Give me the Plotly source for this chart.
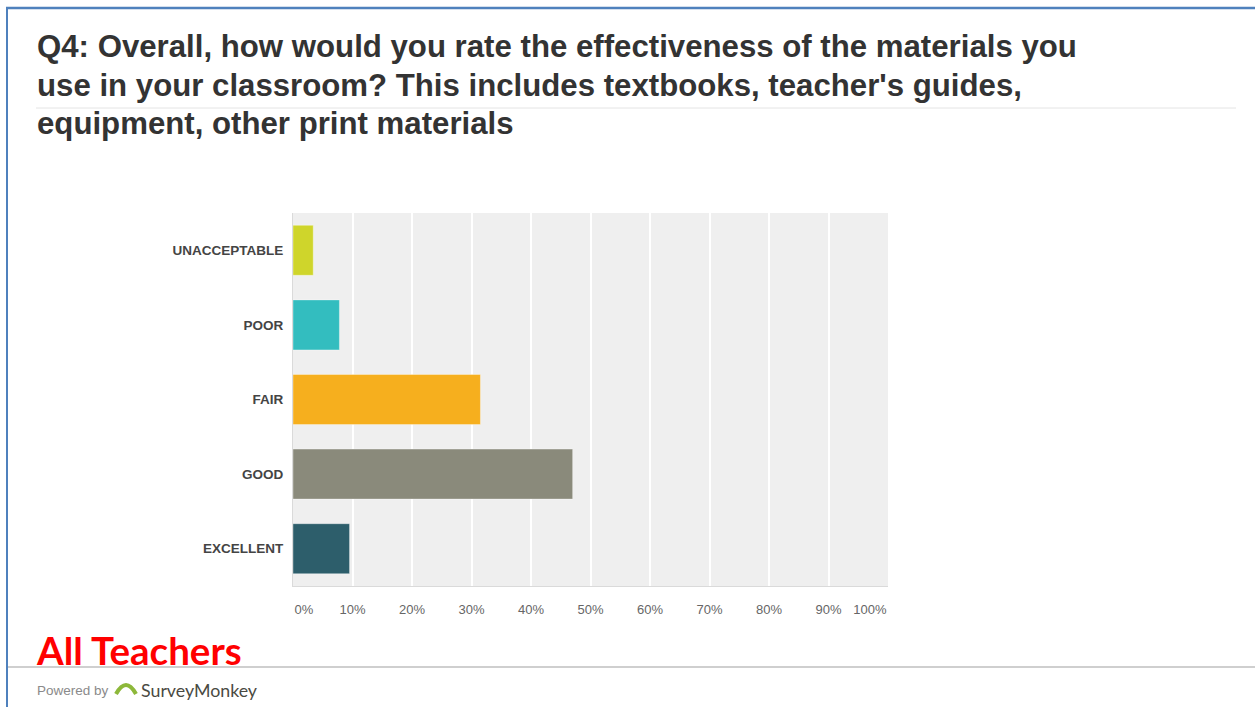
import plotly.graph_objects as go

# Survey responses (percent of respondents)
categories = ["UNACCEPTABLE", "POOR", "FAIR", "GOOD", "EXCELLENT"]
percentages = [3.4, 7.8, 31.5, 47.0, 9.5]
bar_colors = ["#CFD52B", "#33BDBF", "#F6AF1E", "#8A8A7B", "#2D5E6B"]
tick_values = [0, 10, 20, 30, 40, 50, 60, 70, 80, 90, 100]
tick_labels = [f"{v}%" for v in tick_values]

W, H = 1255, 707
NB = "\u00a0"

# first label sits right of its gridline, last one left of it
tick_text = list(tick_labels)
tick_text[0] = NB * 6 + tick_text[0]
tick_text[-1] = tick_text[-1] + NB * 10


def px(x):
    return x / W


def py(y):
    return 1 - y / H


fig = go.Figure(
    go.Bar(
        x=percentages,
        y=categories,
        orientation="h",
        marker=dict(color=bar_colors, line=dict(color="rgba(255,255,255,0.35)", width=1)),
        width=0.67,
        hoverinfo="x+y",
    )
)

fig.update_layout(
    width=W,
    height=H,
    autosize=False,
    margin=dict(l=0, r=0, t=0, b=0, pad=0, autoexpand=False),
    paper_bgcolor="white",
    plot_bgcolor="#EFEFEF",
    showlegend=False,
    font=dict(family="Liberation Sans, Arial, sans-serif"),
    xaxis=dict(
        domain=[px(293), px(888)],
        range=[0, 100],
        tickvals=tick_values,
        ticktext=tick_text,
        tickfont=dict(size=13, color="#666666"),
        showgrid=True,
        gridcolor="white",
        gridwidth=2,
        zeroline=False,
        showline=True,
        linecolor="#DADADA",
        linewidth=1,
        ticks="",
        ticklabelstandoff=11,
        automargin=False,
        fixedrange=True,
    ),
    yaxis=dict(
        domain=[py(586), py(213)],
        categoryorder="array",
        categoryarray=categories[::-1],
        tickfont=dict(size=13.5, color="#444444", family="Liberation Sans, Arial, sans-serif", weight="bold"),
        showgrid=False,
        zeroline=False,
        showline=True,
        linecolor="#DADADA",
        linewidth=1,
        ticks="",
        ticklabelstandoff=6,
        automargin=False,
        fixedrange=True,
    ),
)

title_lines = [
    "Q4: Overall, how would you rate the effectiveness of the materials you",
    "use in your classroom? This includes textbooks, teacher's guides,",
    "equipment, other print materials",
]
for i, line in enumerate(title_lines):
    fig.add_annotation(
        x=px(35), y=py(47 + 38 * i), xref="paper", yref="paper",
        xanchor="left", yanchor="middle", showarrow=False,
        text=f"<b>{line}</b>",
        font=dict(size=31.2, color="#333333", family="Liberation Sans, Arial, sans-serif"),
    )

fig.add_annotation(
    x=px(34), y=py(650), xref="paper", yref="paper",
    xanchor="left", yanchor="middle", showarrow=False,
    text="<b>All Teachers</b>",
    font=dict(size=38.5, color="#FF0000", family="Lato, Open Sans, sans-serif"),
)

fig.add_annotation(
    x=px(35), y=py(690), xref="paper", yref="paper",
    xanchor="left", yanchor="middle", showarrow=False,
    text="Powered by",
    font=dict(size=13.5, color="#8A8A8A", family="Liberation Sans, Arial, sans-serif"),
)
fig.add_annotation(
    x=px(139), y=py(690), xref="paper", yref="paper",
    xanchor="left", yanchor="middle", showarrow=False,
    text="SurveyMonkey",
    font=dict(size=17.8, color="#4A4A42", family="Lato, Open Sans, sans-serif"),
)

shapes = [
    # frame lines
    dict(type="line", x0=px(6), x1=1, y0=py(8), y1=py(8), line=dict(color="#4F81BD", width=2.5)),
    dict(type="line", x0=px(7), x1=px(7), y0=py(7), y1=0, line=dict(color="#4F81BD", width=2)),
    # title separator
    dict(type="line", x0=px(36), x1=px(1236), y0=py(108), y1=py(108), line=dict(color="#E4E4E4", width=1)),
    # footer separator
    dict(type="line", x0=px(8), x1=1, y0=py(667), y1=py(667), line=dict(color="#CFCFCF", width=2)),
    # logo arc
    dict(type="path",
         path=f"M {px(116)},{py(694)} Q {px(126)},{py(676)} {px(136)},{py(694)}",
         line=dict(color="#8DB83A", width=4)),
]
for s in shapes:
    s.setdefault("xref", "paper")
    s.setdefault("yref", "paper")
    fig.add_shape(**s)

fig.write_html("out.html", config={"responsive": False, "displayModeBar": False})
